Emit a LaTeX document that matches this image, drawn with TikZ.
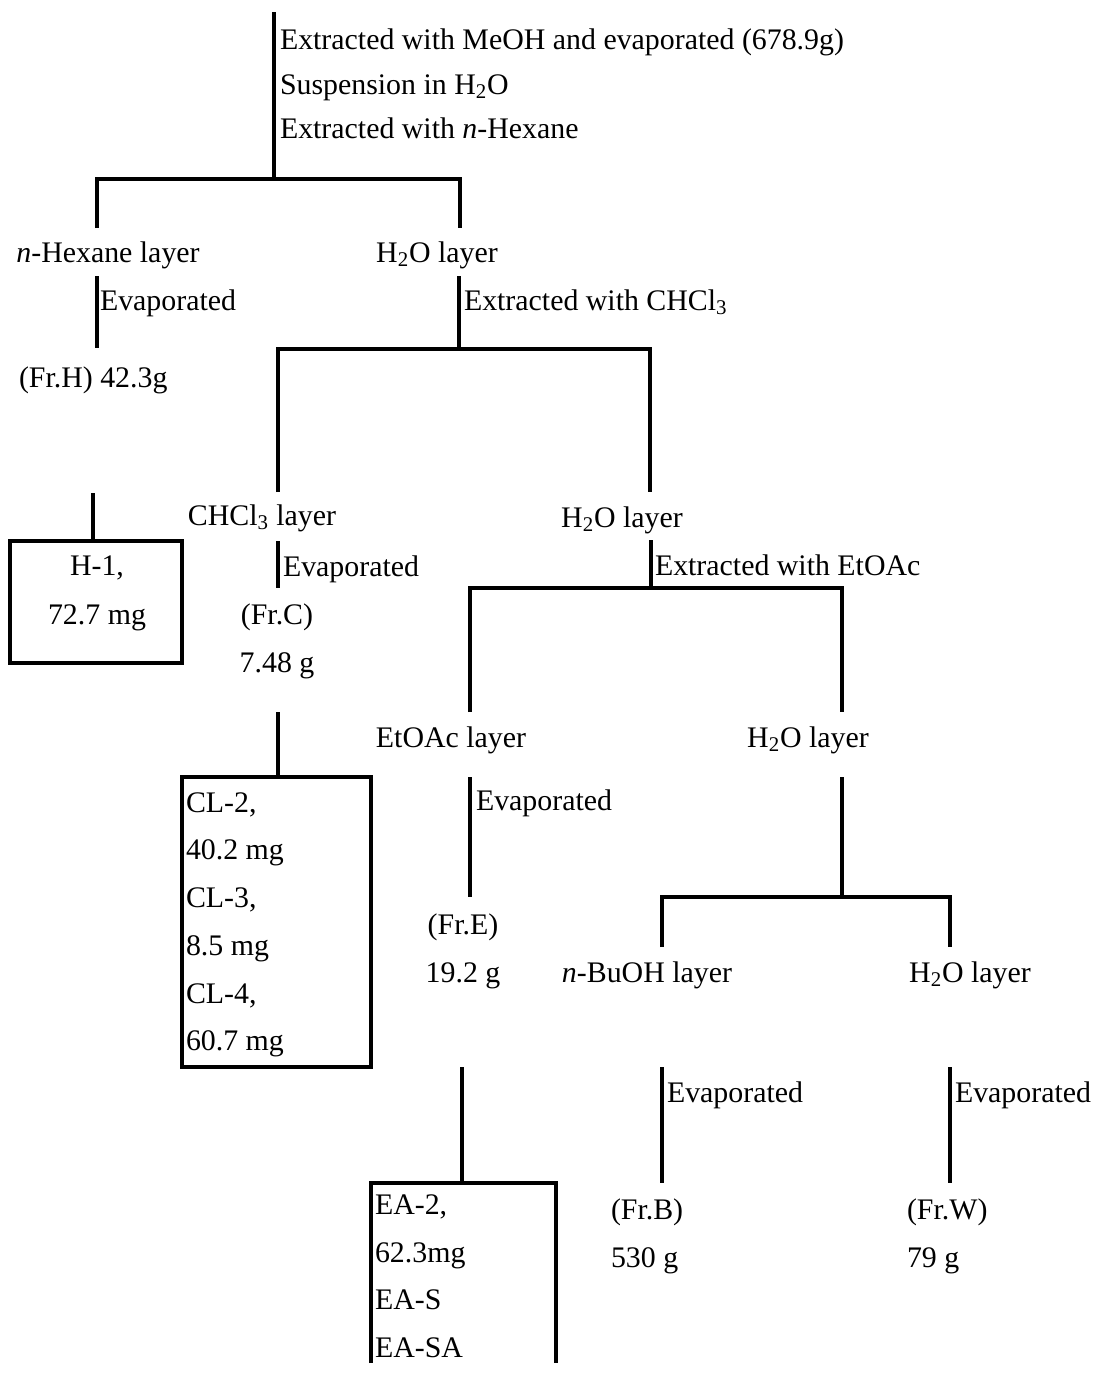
\documentclass[tikz,border=0pt]{standalone}
\usepackage{fontspec}
\setmainfont{Liberation Serif}
\usetikzlibrary{positioning}

\begin{document}
\begin{tikzpicture}[x=0.02cm, y=-0.02cm, node distance=0pt,
    every node/.style={outer sep=0pt, inner sep=0pt, font=\fontsize{17}{20}\selectfont, text height=12pt, text depth=4pt},
    note/.style={anchor=west},
    box/.style={draw, line width=1.9pt},
    every path/.style={line width=1.9pt}]
    \useasboundingbox (0,0) rectangle (1099,1374);
    % methanol extract
    \coordinate (root) at (274,12);
    \coordinate (s1) at (274,179);
    \node (t1) [note] at (280,42) {Extracted with MeOH and evaporated (678.9g)};
    \node (t2) [note] at (280,87) {Suspension in H\textsubscript{2}O};
    \node (t3) [note] at (280,131) {Extracted with \textit{n}-Hexane};
    \draw (root) -- (s1);
    \coordinate (s1l) at (97,228);
    \coordinate (s1r) at (460,228);
    \draw (s1l) |- (s1) -| (s1r);
    \node (hex) at (108,255) {\textit{n}-Hexane layer};
    \node (wat1) at (437,255) {H\textsubscript{2}O layer};
    % hexane fraction
    \coordinate (e1a) at (97,276);
    \coordinate (e1b) at (97,348);
    \draw (e1a) -- (e1b);
    \node (ev1) [note] at (100,303) {Evaporated};
    \node (frh) [note] at (19,380) {(Fr.H) 42.3g};
    \coordinate (h1in) at (93,493);
    \node (h1box) [box, minimum width=3.44cm, minimum height=2.44cm] at (96,602) {};
    \draw (h1in) -- (h1in |- h1box.north);
    \node (h1a) at (97,568) {H-1,};
    \node (h1b) at (97,617) {72.7 mg};
    % chloroform
    \coordinate (c1a) at (459,276);
    \coordinate (s2) at (459,349);
    \draw (c1a) -- (s2);
    \node (ex2) [note] at (464,303) {Extracted with CHCl\textsubscript{3}};
    \coordinate (s2l) at (278,492);
    \coordinate (s2r) at (650,492);
    \draw (s2l) |- (s2) -| (s2r);
    \node (chcl) at (262,518) {CHCl\textsubscript{3} layer};
    \coordinate (e2a) at (278,541);
    \coordinate (e2b) at (278,588);
    \draw (e2a) -- (e2b);
    \node (ev2) [note] at (283,569) {Evaporated};
    \node (frc) at (277,617) {(Fr.C)};
    \node (frcw) at (277,665) {7.48 g};
    \coordinate (clin) at (278,712);
    \node (clbox) [box, minimum width=3.78cm, minimum height=5.8cm] at (276.5,922) {};
    \draw (clin) -- (clin |- clbox.north);
    \foreach \y/\txt in {805/{CL-2,}, 852/40.2 mg, 900/{CL-3,}, 948/8.5 mg, 996/{CL-4,}, 1043/60.7 mg}
        \node [note] at (186,\y) {\txt};
    % ethyl acetate
    \node (wat2) at (622,520) {H\textsubscript{2}O layer};
    \coordinate (c2a) at (651,540);
    \coordinate (s3) at (651,588);
    \draw (c2a) -- (s3);
    \node (ex3) [note] at (655,568) {Extracted with EtOAc};
    \coordinate (s3l) at (470,712);
    \coordinate (s3r) at (842,712);
    \draw (s3l) |- (s3) -| (s3r);
    \node (etoac) at (451,740) {EtOAc layer};
    \node (wat3) at (808,740) {H\textsubscript{2}O layer};
    \coordinate (e3a) at (470,777);
    \coordinate (e3b) at (470,897);
    \draw (e3a) -- (e3b);
    \node (ev3) [note] at (476,803) {Evaporated};
    \node (fre) at (463,927) {(Fr.E)};
    \node (frew) at (463,975) {19.2 g};
    \coordinate (eain) at (462,1067);
    \coordinate (eatop) at (462,1183);
    \draw (eain) -- (eatop);
    \draw (371,1363) -- (371,1183) -- (556,1183) -- (556,1363);
    \foreach \y/\txt in {1207/{EA-2,}, 1255/62.3mg, 1302/EA-S, 1350/EA-SA}
        \node [note] at (375,\y) {\txt};
    % butanol
    \coordinate (c3a) at (842,777);
    \coordinate (s4) at (842,897);
    \draw (c3a) -- (s4);
    \coordinate (s4l) at (662,947);
    \coordinate (s4r) at (950,947);
    \draw (s4l) |- (s4) -| (s4r);
    \node (buoh) at (647,975) {\textit{n}-BuOH layer};
    \node (wat4) at (970,975) {H\textsubscript{2}O layer};
    \coordinate (e4a) at (662,1067);
    \coordinate (e4b) at (662,1183);
    \draw (e4a) -- (e4b);
    \node (ev4) [note] at (667,1095) {Evaporated};
    \node (frb) [note] at (611,1212) {(Fr.B)};
    \node (frbw) [note] at (611,1260) {530 g};
    \coordinate (e5a) at (950,1067);
    \coordinate (e5b) at (950,1183);
    \draw (e5a) -- (e5b);
    \node (ev5) [note] at (955,1095) {Evaporated};
    \node (frw) [note] at (907,1212) {(Fr.W)};
    \node (frww) [note] at (907,1260) {79 g};
\end{tikzpicture}
\end{document}
